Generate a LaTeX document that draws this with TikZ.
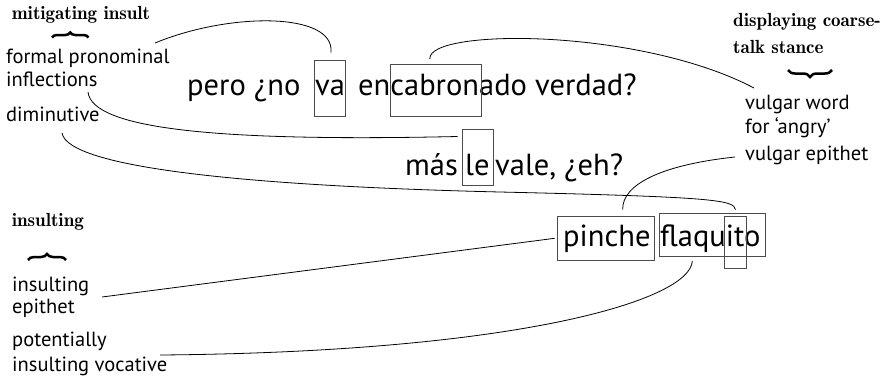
\documentclass[tikz,border=0pt]{standalone}
\usepackage{fontspec}
\newfontfamily\glossfont{PT Sans}
\newfontfamily\headfont{lmromandemi10-regular.otf}
\usetikzlibrary{decorations.pathreplacing}

\tikzset{
  sent/.style={anchor=base west, inner sep=0pt, font=\glossfont\fontsize{30.5}{34}\selectfont},
  gloss/.style={anchor=base west, inner sep=0pt, font=\glossfont\fontsize{20.5}{24}\selectfont},
  head/.style={anchor=base west, inner sep=0pt, font=\headfont\fontsize{19}{27}\selectfont},
  wbox/.style 2 args={draw=black!70, line width=0.9pt, inner sep=0pt,
    minimum width=#1pt, minimum height=#2pt},
  link/.style={draw=black, line width=0.8pt},
  grp/.style={line width=2.5pt, decorate, decoration={brace, amplitude=#1pt}},
}

\begin{document}
\begin{tikzpicture}[x=1pt, y=-1pt]
\useasboundingbox (0,0) rectangle (892,381);

% sentences
\node[sent] (s1a) at (187,95) {pero ¿no};
\node[sent] (s1b) at (315,95) {va};
\node[sent] (s1c) at (358,95) {encabronado verdad?};
\node[sent] (s2a) at (405,175) {más};
\node[sent] (s2b) at (465,175) {le};
\node[sent] (s2c) at (495,175) {vale, ¿eh?};
\node[sent] (s3a) at (563,246.7) {pinche};
\node[sent] (s3b) at (660,246.7) {flaquito};

% boxed morphemes
\node[wbox={30.7}{56.7}] (va) at (329.7,88.3) {};
\node[wbox={91.7}{52}] (cabron) at (435.8,90.3) {};
\node[wbox={30.6}{56.7}] (le) at (478,157.3) {};
\node[wbox={96.7}{44.7}] (pinche) at (605.7,238.3) {};
\node[wbox={106}{43.4}] (flaquito) at (712.3,235) {};
\node[wbox={22.4}{52.3}] (ito) at (735.5,242.2) {};

% glosses
\node[gloss] (fp1) at (6,63.3) {formal pronominal};
\node[gloss] (fp2) at (6,86.7) {inflections};
\node[gloss] (dim) at (6,121.7) {diminutive};
\node[gloss] (ie1) at (12,291.7) {insulting};
\node[gloss] (ie2) at (12,313.5) {epithet};
\node[gloss] (pv1) at (12,346.7) {potentially};
\node[gloss] (pv2) at (12,371.7) {insulting vocative};
\node[gloss] (vw1) at (745,109.5) {vulgar word};
\node[gloss] (vw2) at (745,133.3) {for ‘angry’};
\node[gloss] (vw3) at (745,160) {vulgar epithet};

% function headings
\node[head] (mit) at (11.7,19.5) {mitigating insult};
\node[head] (dcs1) at (733,26) {displaying coarse-};
\node[head] (dcs2) at (733,53) {talk stance};
\node[head] (ins) at (11.7,226.7) {insulting};

\draw[grp=5] (52,37.5) -- (88.5,37.5);
\draw[grp=6] (28,260) -- (66,260);
\draw[grp=7] (832,70) -- (788,70);

% connector ends beside the glosses
\coordinate (fpA) at (155,43);
\coordinate (fpB) at (88,92);
\coordinate (dimA) at (62,133);
\coordinate (ieA) at (102,297);
\coordinate (pvA) at (160,355);
\coordinate (vwA) at (754,88);
\coordinate (veA) at (735,157);

% connectors
\draw[link] (fpA) .. controls (230,12) and (335,12) .. ([xshift=1.3pt,yshift=7pt]va.north);
\draw[link] ([xshift=-6pt,yshift=5pt]cabron.north) .. controls (428,28) and (640,28) .. (vwA);
\draw[link] (fpB) .. controls (92,128) and (210,142) .. ([xshift=-4.7pt,yshift=-8pt]le.north west);
\draw[link] (dimA) .. controls (68,168) and (250,186) .. (500,192)
  .. controls (715,197) and (734,200) .. ([yshift=6pt]ito.north);
\draw[link] (veA) .. controls (660,165) and (622,185) .. ([xshift=17pt,yshift=6pt]pinche.north);
\draw[link] (ieA) -- ([xshift=-2.3pt]pinche.west);
\draw[link] ([xshift=-20pt,yshift=-4pt]flaquito.south) .. controls (690,300) and (520,352) .. (pvA);
\end{tikzpicture}
\end{document}
